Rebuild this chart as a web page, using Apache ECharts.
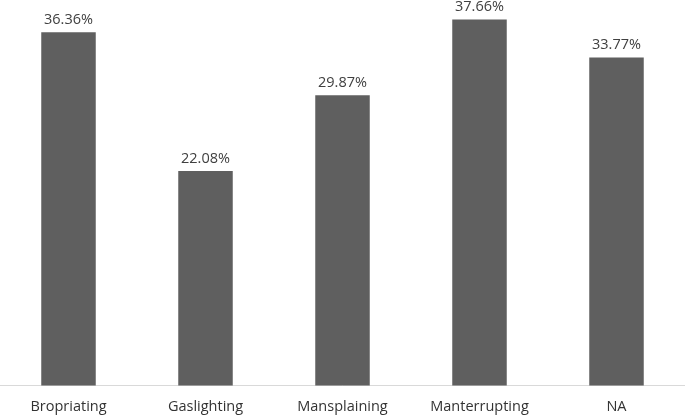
<!DOCTYPE html>
<html>
<head>
<meta charset="utf-8">
<script src="https://cdn.jsdelivr.net/npm/echarts@6/dist/echarts.min.js"></script>
<style>
  html, body { margin: 0; padding: 0; background: #fff; }
  #chart { width: 685px; height: 416px; }
</style>
</head>
<body>
<div id="chart"></div>
<script>
const categories = ['Bropriating', 'Gaslighting', 'Mansplaining', 'Manterrupting', 'NA']
const values = [36.36, 22.08, 29.87, 37.66, 33.77]

const chart = echarts.init(document.getElementById('chart'))

chart.setOption({
  animation: false,
  grid: {
    left: 0,
    right: 0,
    top: 0,
    bottom: 30.5
  },
  xAxis: {
    type: 'category',
    data: categories,
    axisTick: { show: false },
    axisLine: {
      lineStyle: { color: '#d9d9d9', width: 1 }
    },
    axisLabel: {
      color: '#333333',
      fontFamily: 'Open Sans',
      fontSize: 14.5,
      margin: 14
    }
  },
  yAxis: {
    type: 'value',
    min: 0,
    max: 39.68,
    show: false,
    splitLine: { show: false }
  },
  series: [
    {
      type: 'bar',
      data: values,
      barWidth: 54.5,
      itemStyle: { color: '#5f5f5f' },
      label: {
        show: true,
        position: 'top',
        distance: 5,
        color: '#404040',
        fontFamily: 'Open Sans',
        fontSize: 14.5,
        formatter: p => p.value.toFixed(2) + '%'
      }
    }
  ]
})
</script>
</body>
</html>
